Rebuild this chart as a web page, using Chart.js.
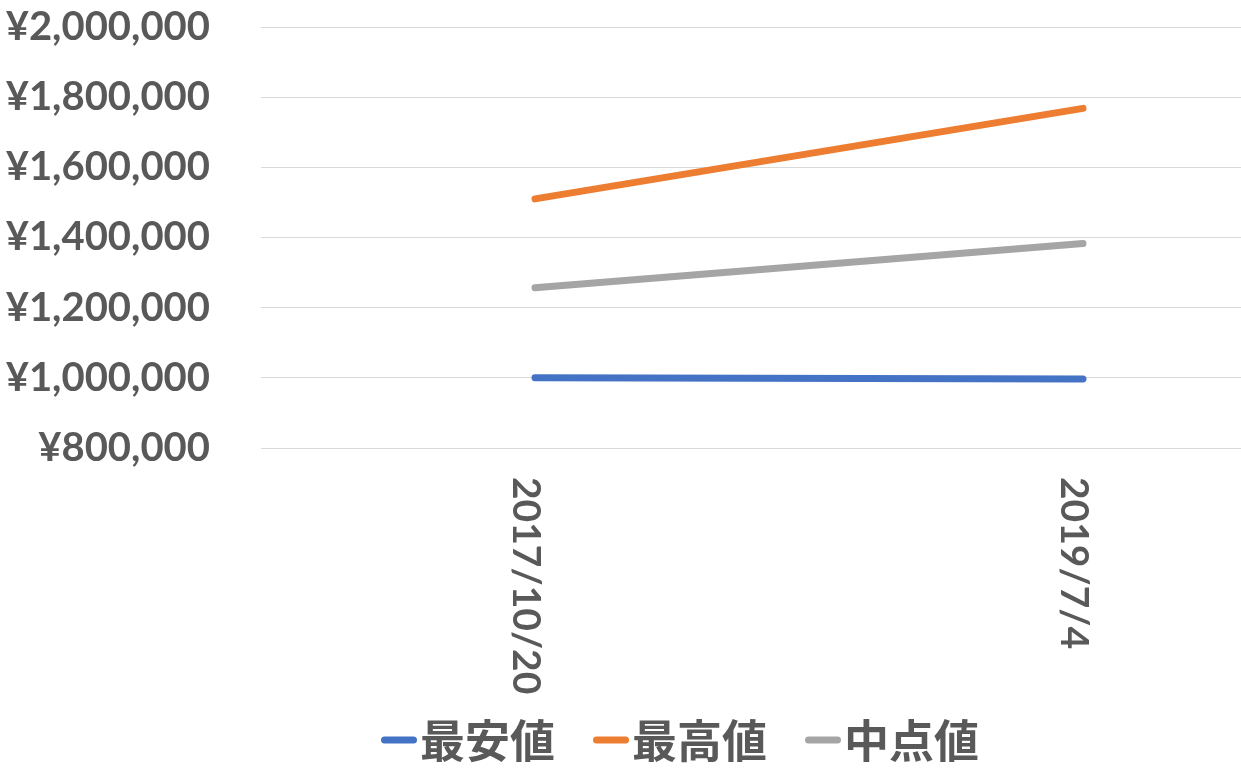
<!DOCTYPE html>
<html>
<head>
<meta charset="utf-8">
<script src="https://cdn.jsdelivr.net/npm/chart.js@4"></script>
<style>
  html, body { margin: 0; padding: 0; background: #fff; overflow: hidden; }
  #wrap { width: 1360px; height: 774px; }
</style>
</head>
<body>
<div id="wrap"><canvas id="priceChart"></canvas></div>
<script>
// データ
const dates = ['2017/10/20', '2019/7/4'];
const seriesNames = ['最安値', '最高値', '中点値'];
const lowest = [1000000, 997000];
const highest = [1510000, 1768000];
const middle = [1257000, 1383000];
const yTicks = [800000, 1000000, 1200000, 1400000, 1600000, 1800000, 2000000];

const textColor = '#595959';

// x軸ラベル（上から下へ読む縦書き）
const dateLabels = {
    id: 'dateLabels',
    afterDraw(chart) {
        const ctx = chart.ctx;
        const xScale = chart.scales.x;
        ctx.save();
        ctx.font = 'bold 39px Lato';
        ctx.fillStyle = textColor;
        ctx.textAlign = 'left';
        ctx.textBaseline = 'alphabetic';
        chart.data.labels.forEach((label, i) => {
            const px = xScale.getPixelForValue(i);
            ctx.save();
            ctx.translate(px, 477);
            ctx.rotate(Math.PI / 2);
            ctx.fillText(label, 0, 22);
            ctx.restore();
        });
        ctx.restore();
    }
};

// 凡例（下）
const bottomLegend = {
    id: 'bottomLegend',
    afterDraw(chart) {
        const ctx = chart.ctx;
        ctx.save();
        ctx.font = 'bold 45px "Noto Sans CJK JP"';
        const dash = 36, gap = 3, between = 38;
        const items = chart.data.datasets.map(ds => ({
            text: ds.label,
            color: ds.borderColor,
            w: ctx.measureText(ds.label).width
        }));
        const total = items.reduce((s, it) => s + dash + gap + it.w, 0) + between * (items.length - 1);
        let x = chart.width / 2 - total / 2;
        const y = 740;
        items.forEach(it => {
            ctx.strokeStyle = it.color;
            ctx.lineWidth = 7;
            ctx.lineCap = 'round';
            ctx.beginPath();
            ctx.moveTo(x + 3.5, y);
            ctx.lineTo(x + dash - 3.5, y);
            ctx.stroke();
            ctx.fillStyle = textColor;
            ctx.textAlign = 'left';
            ctx.textBaseline = 'middle';
            ctx.fillText(it.text, x + dash + gap, y + 1);
            x += dash + gap + it.w + between;
        });
        ctx.restore();
    }
};

const ctx = document.getElementById('priceChart').getContext('2d');
const priceChart = new Chart(ctx, {
    type: 'line',
    data: {
        labels: dates,
        datasets: [
            { label: seriesNames[0], data: lowest, borderColor: '#4472C4' },
            { label: seriesNames[1], data: highest, borderColor: '#ED7D31' },
            { label: seriesNames[2], data: middle, borderColor: '#A5A5A5' }
        ]
    },
    options: {
        responsive: true,
        maintainAspectRatio: false,
        animation: false,
        layout: { padding: { top: 27, right: 3, left: 0, bottom: 0 } },
        elements: {
            line: { borderWidth: 7, borderCapStyle: 'round', borderJoinStyle: 'round', tension: 0, fill: false },
            point: { radius: 0, hoverRadius: 0 }
        },
        plugins: {
            legend: { display: false },
            tooltip: { enabled: false }
        },
        scales: {
            x: {
                offset: true,
                grid: { display: false },
                border: { display: false },
                ticks: { display: false },
                afterFit(scale) { scale.height = 326; }
            },
            y: {
                min: 800000,
                max: 2000000,
                grid: { color: '#D9D9D9', lineWidth: 1, drawTicks: false },
                border: { display: false },
                afterBuildTicks(scale) { scale.ticks = yTicks.map(v => ({ value: v })); },
                afterFit(scale) {
                    scale.width = 261;
                    scale.paddingTop = 0;
                    scale.paddingBottom = 0;
                },
                ticks: {
                    padding: 51,
                    color: textColor,
                    font: { family: 'Lato', weight: 'bold', size: 40 },
                    callback: v => '¥' + Number(v).toLocaleString('en-US')
                }
            }
        }
    },
    plugins: [dateLabels, bottomLegend]
});
</script>
</body>
</html>
